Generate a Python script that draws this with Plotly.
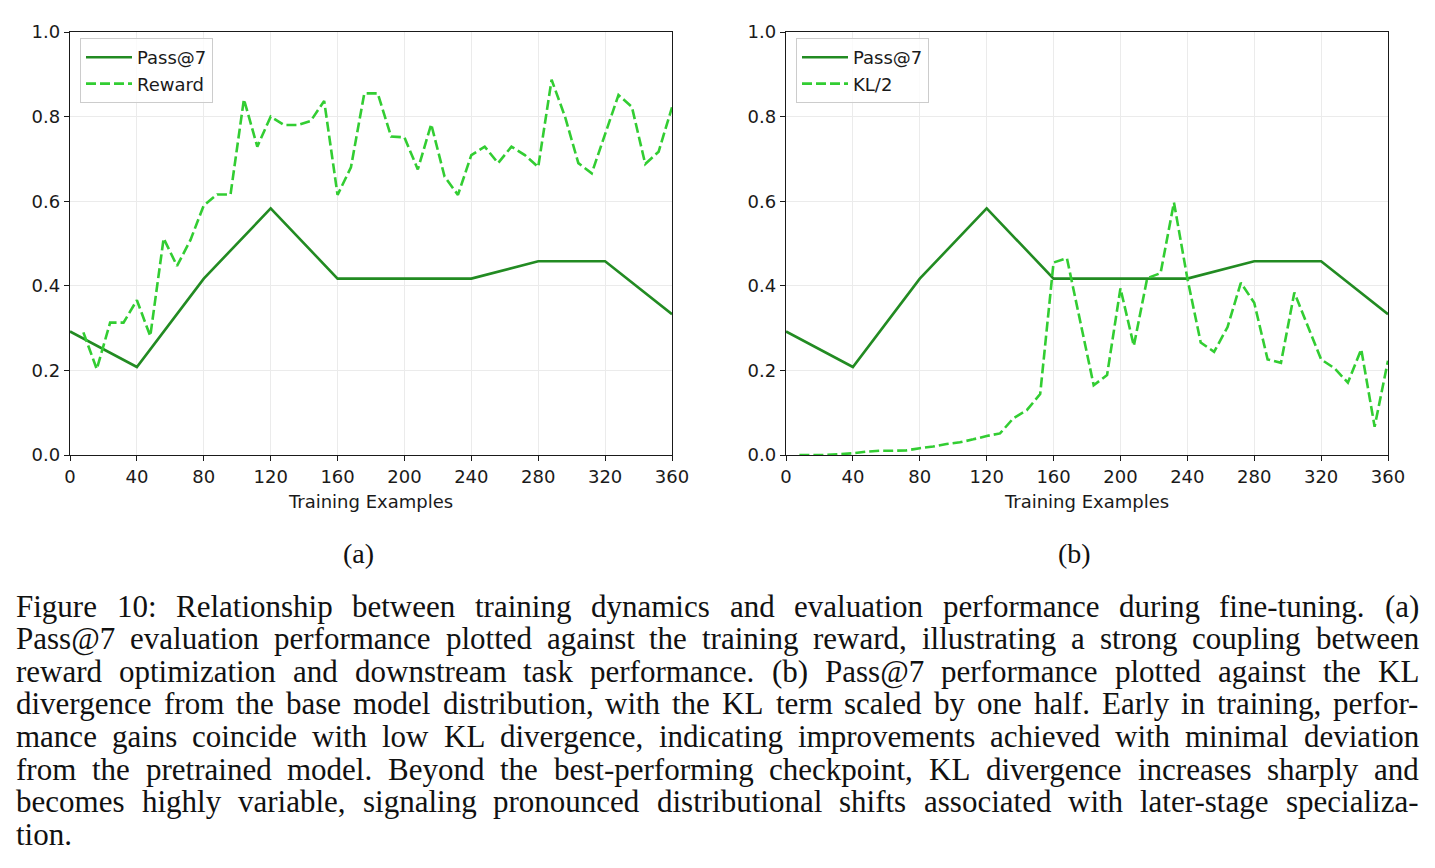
import plotly.graph_objects as go

# ---------------- data ----------------
pass_x = [0, 40, 80, 120, 160, 200, 240, 280, 320, 360]
pass7 = [0.292, 0.208, 0.417, 0.583, 0.417, 0.417, 0.417, 0.458, 0.458, 0.333]

step_x = [8, 16, 24, 32, 40, 48, 56, 64, 72, 80, 88, 96, 104, 112, 120, 128,
          136, 144, 152, 160, 168, 176, 184, 192, 200, 208, 216, 224, 232, 240,
          248, 256, 264, 272, 280, 288, 296, 304, 312, 320, 328, 336, 344, 352, 360]

reward = [0.290, 0.203, 0.313, 0.313, 0.366, 0.281, 0.512, 0.447, 0.508, 0.590,
          0.616, 0.616, 0.841, 0.729, 0.800, 0.780, 0.780, 0.790, 0.837, 0.615,
          0.680, 0.855, 0.855, 0.753, 0.751, 0.675, 0.782, 0.658, 0.615, 0.709,
          0.729, 0.690, 0.729, 0.709, 0.681, 0.887, 0.800, 0.690, 0.666, 0.760,
          0.851, 0.823, 0.688, 0.717, 0.822]

kl_half = [0.000, 0.000, 0.000, 0.002, 0.004, 0.008, 0.010, 0.010, 0.011, 0.016,
           0.020, 0.026, 0.030, 0.037, 0.045, 0.051, 0.087, 0.106, 0.144, 0.455,
           0.465, 0.315, 0.165, 0.189, 0.394, 0.258, 0.418, 0.430, 0.597, 0.418,
           0.266, 0.244, 0.302, 0.407, 0.360, 0.226, 0.218, 0.384, 0.305, 0.226,
           0.205, 0.171, 0.250, 0.067, 0.223]

x_ticks = [0, 40, 80, 120, 160, 200, 240, 280, 320, 360]
y_ticks = [0.0, 0.2, 0.4, 0.6, 0.8, 1.0]

caption_lines = [
    "Figure 10: Relationship between training dynamics and evaluation performance during fine-tuning. (a)",
    "Pass@7 evaluation performance plotted against the training reward, illustrating a strong coupling between",
    "reward optimization and downstream task performance. (b) Pass@7 performance plotted against the KL",
    "divergence from the base model distribution, with the KL term scaled by one half. Early in training, perfor-",
    "mance gains coincide with low KL divergence, indicating improvements achieved with minimal deviation",
    "from the pretrained model. Beyond the best-performing checkpoint, KL divergence increases sharply and",
    "becomes highly variable, signaling pronounced distributional shifts associated with later-stage specializa-",
    "tion.",
]

# ---------------- layout helpers ----------------
W, H = 1435, 868
def px(x):
    return x / W
def py(y):
    return 1 - y / H

DARK = "#228B22"
LIGHT = "#32CD32"
TICKFONT = dict(family="DejaVu Sans", size=18, color="#1a1a1a")

fig = go.Figure()

fig.add_trace(go.Scatter(x=pass_x, y=pass7, mode="lines", name="Pass@7",
                         line=dict(color=DARK, width=2.6), xaxis="x", yaxis="y",
                         legend="legend", legendgroup="a1"))
fig.add_trace(go.Scatter(x=step_x, y=reward, mode="lines", name="Reward",
                         line=dict(color=LIGHT, width=2.6, dash="10px,4px"),
                         xaxis="x", yaxis="y", legend="legend", legendgroup="a2"))
fig.add_trace(go.Scatter(x=pass_x, y=pass7, mode="lines", name="Pass@7",
                         line=dict(color=DARK, width=2.6), xaxis="x2", yaxis="y2",
                         legend="legend2", legendgroup="b1"))
fig.add_trace(go.Scatter(x=step_x, y=kl_half, mode="lines", name="KL/2",
                         line=dict(color=LIGHT, width=2.6, dash="10px,4px"),
                         xaxis="x2", yaxis="y2", legend="legend2", legendgroup="b2"))

def xaxis_cfg(x0, x1, anchor):
    return dict(domain=[px(x0), px(x1)], anchor=anchor, range=[0, 360],
                tickvals=x_ticks, ticktext=[str(v) for v in x_ticks],
                ticks="outside", ticklen=5, tickwidth=1.3, tickcolor="#1a1a1a",
                showline=True, linecolor="#1a1a1a", linewidth=1.4, mirror=True,
                showgrid=True, gridcolor="#ebebeb", gridwidth=1, zeroline=False,
                tickfont=TICKFONT, automargin=False,
                title=dict(text="Training Examples", font=TICKFONT, standoff=9))

def yaxis_cfg(anchor):
    return dict(domain=[py(455), py(32)], anchor=anchor, range=[0, 1],
                tickvals=y_ticks, ticktext=["%.1f" % v for v in y_ticks],
                ticks="outside", ticklen=5, tickwidth=1.3, tickcolor="#1a1a1a",
                showline=True, linecolor="#1a1a1a", linewidth=1.4, mirror=True,
                showgrid=True, gridcolor="#ebebeb", gridwidth=1, zeroline=False,
                tickfont=TICKFONT, automargin=False)

legend_common = dict(xanchor="left", yanchor="top", bgcolor="rgba(255,255,255,0.8)",
                     bordercolor="#cccccc", borderwidth=1,
                     font=dict(family="DejaVu Sans", size=18, color="#1a1a1a"),
                     traceorder="grouped", tracegroupgap=0, itemwidth=46)

annotations = []
# subplot labels
annotations.append(dict(text="(a)", x=px(358), y=py(553), xref="paper", yref="paper",
                        showarrow=False, xanchor="center", yanchor="middle",
                        font=dict(family="Liberation Serif", size=28, color="#111")))
annotations.append(dict(text="(b)", x=px(1074), y=py(553), xref="paper", yref="paper",
                        showarrow=False, xanchor="center", yanchor="middle",
                        font=dict(family="Liberation Serif", size=28, color="#111")))

# justified caption (word-level placement using Times-metric widths)
TW = {' ': 250, '!': 333, '(': 333, ')': 333, ',': 250, '-': 333, '.': 250, '/': 278,
      ':': 278, ';': 278, '@': 921, '?': 444}
for d in "0123456789":
    TW[d] = 500
TW.update(dict(A=722, B=667, C=667, D=722, E=611, F=556, G=722, H=722, I=333, J=389,
               K=722, L=611, M=889, N=722, O=722, P=556, Q=722, R=667, S=556, T=611,
               U=722, V=722, W=944, X=722, Y=722, Z=611,
               a=444, b=500, c=444, d=500, e=444, f=333, g=500, h=500, i=278, j=278,
               k=500, l=278, m=778, n=500, o=500, p=500, q=500, r=333, s=389, t=278,
               u=500, v=500, w=722, x=500, y=500, z=444))
CAP_SIZE = 31
def word_w(wd):
    return sum(TW.get(ch, 500) for ch in wd) * CAP_SIZE / 1000.0

left, right = 15, 1418
y0, dy = 606, 32.6
capfont = dict(family="Liberation Serif", size=CAP_SIZE, color="#111")
for i, line in enumerate(caption_lines):
    yy = y0 + i * dy
    words = line.split(" ")
    widths = [word_w(w) for w in words]
    last = (i == len(caption_lines) - 1)
    if last or len(words) == 1:
        gap = TW[' '] * CAP_SIZE / 1000.0
    else:
        gap = (right - left - sum(widths)) / (len(words) - 1)
    xx = left
    for w, ww in zip(words, widths):
        annotations.append(dict(text=w, x=px(xx), y=py(yy), xref="paper", yref="paper",
                                showarrow=False, xanchor="left", yanchor="middle",
                                borderpad=0, font=capfont))
        xx += ww + gap

fig.update_layout(
    width=W, height=H, margin=dict(l=0, r=0, t=0, b=0),
    paper_bgcolor="white", plot_bgcolor="white",
    xaxis=xaxis_cfg(70, 672, "y"), yaxis=yaxis_cfg("x"),
    xaxis2=xaxis_cfg(786, 1388, "y2"), yaxis2=yaxis_cfg("x2"),
    legend=dict(x=px(80), y=py(38), **legend_common),
    legend2=dict(x=px(796), y=py(38), **legend_common),
    annotations=annotations,
    showlegend=True,
)

fig.write_html("out.html")
